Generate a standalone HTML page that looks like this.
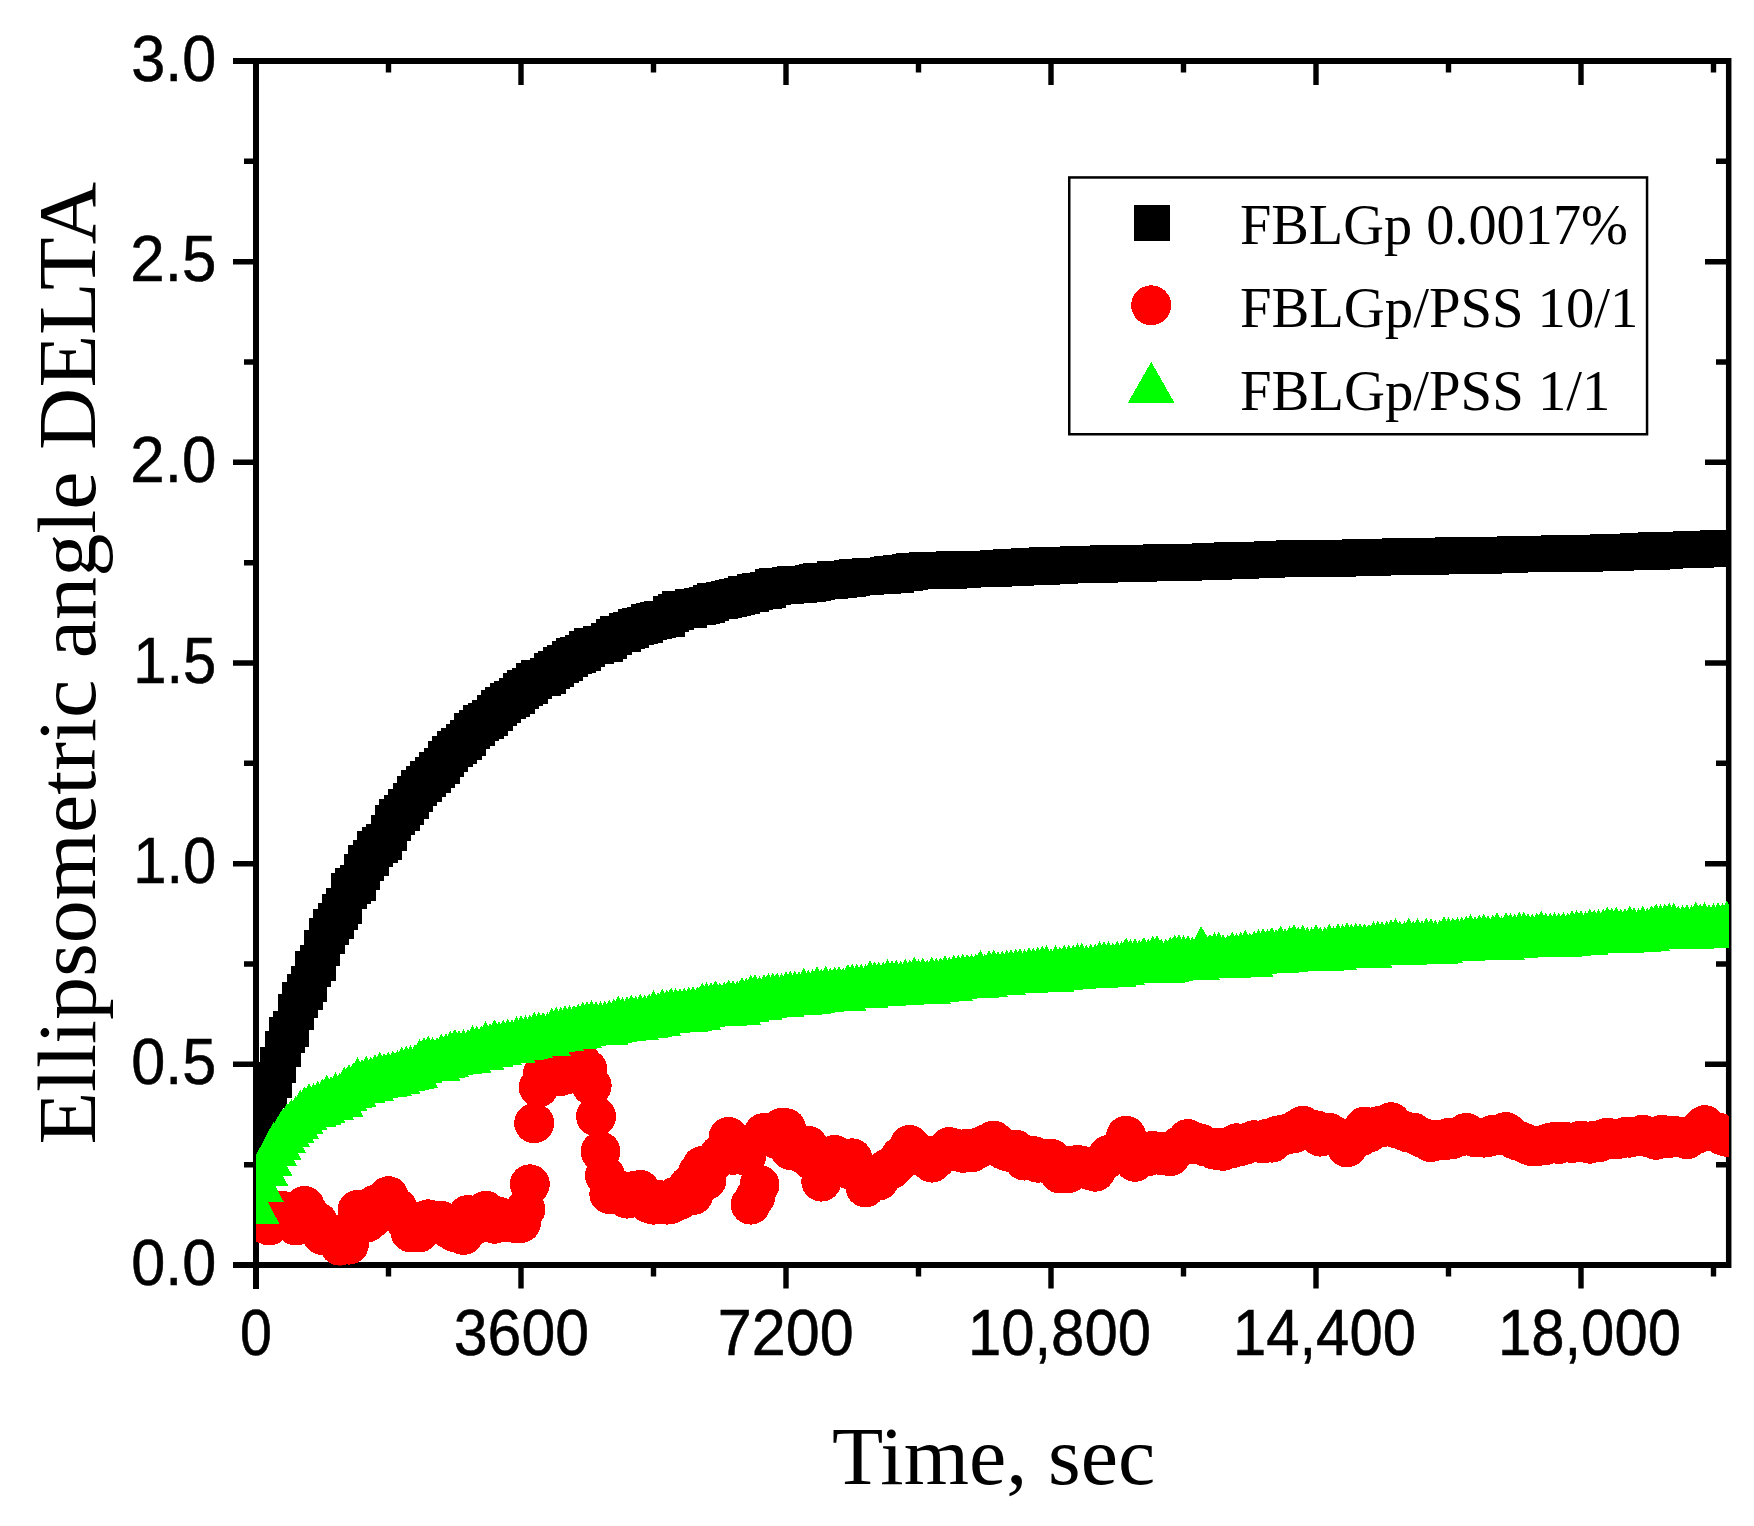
<!DOCTYPE html>
<html><head><meta charset="utf-8"><title>Ellipsometric angle DELTA vs time</title>
<style>
html,body{margin:0;padding:0;background:#fff}
body{width:1754px;height:1526px;overflow:hidden}
svg{display:block}
.tk{font-family:"Liberation Sans",Arial,sans-serif;font-size:64.7px;fill:#000;stroke:#000;stroke-width:0.55px}
.ti{font-family:"Liberation Serif","DejaVu Serif",serif;font-size:82px;fill:#000}
.lg{font-family:"Liberation Serif","DejaVu Serif",serif;font-size:57.5px;fill:#000}
</style></head><body>
<svg width="1754" height="1526" viewBox="0 0 1754 1526">
<defs><clipPath id="plot"><rect x="256" y="61" width="1473" height="1204.5"/></clipPath></defs>
<rect width="1754" height="1526" fill="#fff"/>
<g fill="none" stroke="#000">
<path d="M233 61H1731.4M256 58V1288.6M233 1265H1731.4" stroke-width="6" shape-rendering="crispEdges"/>
<path d="M1728.7 58V1268" stroke-width="5.5"/>
<path d="M233 1265h20M1705 1265h21M244 1164.7h9M1716 1164.7h10M233 1064.3h20M1705 1064.3h21M244 964h9M1716 964h10M233 863.7h20M1705 863.7h21M244 763.3h9M1716 763.3h10M233 663h20M1705 663h21M244 562.7h9M1716 562.7h10M233 462.3h20M1705 462.3h21M244 362h9M1716 362h10M233 261.7h20M1705 261.7h21M244 161.3h9M1716 161.3h10M233 61h20M1705 61h21M256 1268v20.5M256 64v21M388.5 1268v8.6M388.5 64v8.5M521 1268v20.5M521 64v21M653.5 1268v8.6M653.5 64v8.5M786 1268v20.5M786 64v21M918.5 1268v8.6M918.5 64v8.5M1051 1268v20.5M1051 64v21M1183.5 1268v8.6M1183.5 64v8.5M1316 1268v20.5M1316 64v21M1448.5 1268v8.6M1448.5 64v8.5M1581 1268v20.5M1581 64v21M1713.5 1268v8.6M1713.5 64v8.5" stroke-width="5.4"/>
</g>
<g clip-path="url(#plot)" shape-rendering="crispEdges">
<path fill="#000" d="M238 1122h36v36h-36zM242.4 1100h36v36h-36zM246.8 1084h36v36h-36zM251.2 1072h36v36h-36zM255.7 1062h36v36h-36zM260.1 1047h36v36h-36zM264.5 1031h36v36h-36zM268.9 1017h36v36h-36zM273.3 1011h36v36h-36zM277.8 994h36v36h-36zM282.2 982h36v36h-36zM286.6 974h36v36h-36zM291 966h36v36h-36zM295.4 951h36v36h-36zM299.8 945h36v36h-36zM304.2 930h36v36h-36zM308.7 918h36v36h-36zM313.1 909h36v36h-36zM317.5 903h36v36h-36zM321.9 894h36v36h-36zM326.3 888h36v36h-36zM330.8 873h36v36h-36zM335.2 868h36v36h-36zM339.6 865h36v36h-36zM344 854h36v36h-36zM348.4 845h36v36h-36zM352.8 840h36v36h-36zM357.2 831h36v36h-36zM361.7 827h36v36h-36zM366.1 824h36v36h-36zM370.5 815h36v36h-36zM374.9 805h36v36h-36zM379.3 799h36v36h-36zM383.8 795h36v36h-36zM388.2 789h36v36h-36zM392.6 783h36v36h-36zM397 776h36v36h-36zM401.4 770h36v36h-36zM405.8 766h36v36h-36zM410.2 761h36v36h-36zM414.7 757h36v36h-36zM419.1 752h36v36h-36zM423.5 748h36v36h-36zM427.9 741h36v36h-36zM432.3 736h36v36h-36zM436.8 731h36v36h-36zM441.2 728h36v36h-36zM445.6 724h36v36h-36zM450 720h36v36h-36zM454.4 713h36v36h-36zM458.8 710h36v36h-36zM463.2 705h36v36h-36zM467.7 703h36v36h-36zM472.1 700h36v36h-36zM476.5 695h36v36h-36zM480.9 690h36v36h-36zM485.3 687h36v36h-36zM489.8 683h36v36h-36zM494.2 681h36v36h-36zM498.6 678h36v36h-36zM503 673h36v36h-36zM507.4 670h36v36h-36zM511.8 668h36v36h-36zM516.2 663h36v36h-36zM520.7 660h36v36h-36zM525.1 660h36v36h-36zM529.5 658h36v36h-36zM533.9 653h36v36h-36zM538.3 651h36v36h-36zM542.8 647h36v36h-36zM547.2 645h36v36h-36zM551.6 641h36v36h-36zM556 638h36v36h-36zM560.4 637h36v36h-36zM564.8 635h36v36h-36zM569.2 631h36v36h-36zM573.7 628h36v36h-36zM578.1 628h36v36h-36zM582.5 626h36v36h-36zM586.9 626h36v36h-36zM591.3 623h36v36h-36zM595.8 619h36v36h-36zM600.2 616h36v36h-36zM604.6 616h36v36h-36zM609 613h36v36h-36zM613.4 612h36v36h-36zM617.8 609h36v36h-36zM622.2 608h36v36h-36zM626.7 607h36v36h-36zM631.1 604h36v36h-36zM635.5 603h36v36h-36zM639.9 602h36v36h-36zM644.3 601h36v36h-36zM648.8 601h36v36h-36zM653.2 596h36v36h-36zM657.6 594h36v36h-36zM662 591h36v36h-36zM666.4 592h36v36h-36zM670.8 592h36v36h-36zM675.2 589h36v36h-36zM679.7 589h36v36h-36zM684.1 588h36v36h-36zM688.5 587h36v36h-36zM692.9 585h36v36h-36zM697.3 583h36v36h-36zM701.8 583h36v36h-36zM706.2 582h36v36h-36zM710.6 581h36v36h-36zM715 580h36v36h-36zM719.4 579h36v36h-36zM723.8 578h36v36h-36zM728.2 576h36v36h-36zM732.7 576h36v36h-36zM737.1 574h36v36h-36zM741.5 573h36v36h-36zM745.9 573h36v36h-36zM750.3 572h36v36h-36zM754.8 569h36v36h-36zM759.2 568h36v36h-36zM763.6 568h36v36h-36zM768 568h36v36h-36zM772.4 567h36v36h-36zM776.8 566h36v36h-36zM781.2 567h36v36h-36zM785.7 566h36v36h-36zM790.1 566h36v36h-36zM794.5 565h36v36h-36zM798.9 564h36v36h-36zM803.3 563h36v36h-36zM807.8 563h36v36h-36zM812.2 563h36v36h-36zM816.6 561h36v36h-36zM821 562h36v36h-36zM825.4 561h36v36h-36zM829.8 561h36v36h-36zM834.2 560h36v36h-36zM838.7 559h36v36h-36zM843.1 559h36v36h-36zM847.5 559h36v36h-36zM851.9 558h36v36h-36zM856.3 558h36v36h-36zM860.8 558h36v36h-36zM865.2 558h36v36h-36zM869.6 557h36v36h-36zM874 556h36v36h-36zM878.4 557h36v36h-36zM882.8 555h36v36h-36zM887.2 555h36v36h-36zM891.7 554h36v36h-36zM896.1 553h36v36h-36zM900.5 553h36v36h-36zM904.9 553h36v36h-36zM909.3 552h36v36h-36zM913.8 552h36v36h-36zM918.2 552h36v36h-36zM922.6 553h36v36h-36zM927 553h36v36h-36zM931.4 553h36v36h-36zM935.8 551h36v36h-36zM940.2 552h36v36h-36zM944.7 552h36v36h-36zM949.1 551h36v36h-36zM953.5 551h36v36h-36zM957.9 551h36v36h-36zM962.3 551h36v36h-36zM966.8 551h36v36h-36zM971.2 551h36v36h-36zM975.6 551h36v36h-36zM980 550h36v36h-36zM984.4 550h36v36h-36zM988.8 550h36v36h-36zM993.2 549h36v36h-36zM997.7 550h36v36h-36zM1002.1 549h36v36h-36zM1006.5 549h36v36h-36zM1010.9 548h36v36h-36zM1015.3 549h36v36h-36zM1019.8 549h36v36h-36zM1024.2 549h36v36h-36zM1028.6 547h36v36h-36zM1033 547h36v36h-36zM1037.4 547h36v36h-36zM1041.8 548h36v36h-36zM1046.2 547h36v36h-36zM1050.7 547h36v36h-36zM1055.1 547h36v36h-36zM1059.5 546h36v36h-36zM1063.9 547h36v36h-36zM1068.3 546h36v36h-36zM1072.8 546h36v36h-36zM1077.2 547h36v36h-36zM1081.6 547h36v36h-36zM1086 546h36v36h-36zM1090.4 545h36v36h-36zM1094.8 546h36v36h-36zM1099.2 545h36v36h-36zM1103.7 545h36v36h-36zM1108.1 545h36v36h-36zM1112.5 545h36v36h-36zM1116.9 545h36v36h-36zM1121.3 546h36v36h-36zM1125.8 545h36v36h-36zM1130.2 545h36v36h-36zM1134.6 545h36v36h-36zM1139 545h36v36h-36zM1143.4 544h36v36h-36zM1147.8 545h36v36h-36zM1152.2 544h36v36h-36zM1156.7 545h36v36h-36zM1161.1 544h36v36h-36zM1165.5 545h36v36h-36zM1169.9 544h36v36h-36zM1174.3 544h36v36h-36zM1178.8 544h36v36h-36zM1183.2 544h36v36h-36zM1187.6 544h36v36h-36zM1192 543h36v36h-36zM1196.4 544h36v36h-36zM1200.8 543h36v36h-36zM1205.2 543h36v36h-36zM1209.7 543h36v36h-36zM1214.1 542h36v36h-36zM1218.5 542h36v36h-36zM1222.9 543h36v36h-36zM1227.3 542h36v36h-36zM1231.8 542h36v36h-36zM1236.2 542h36v36h-36zM1240.6 542h36v36h-36zM1245 542h36v36h-36zM1249.4 542h36v36h-36zM1253.8 541h36v36h-36zM1258.2 541h36v36h-36zM1262.7 541h36v36h-36zM1267.1 541h36v36h-36zM1271.5 541h36v36h-36zM1275.9 540h36v36h-36zM1280.3 541h36v36h-36zM1284.8 541h36v36h-36zM1289.2 541h36v36h-36zM1293.6 541h36v36h-36zM1298 541h36v36h-36zM1302.4 541h36v36h-36zM1306.8 540h36v36h-36zM1311.2 540h36v36h-36zM1315.7 540h36v36h-36zM1320.1 541h36v36h-36zM1324.5 540h36v36h-36zM1328.9 540h36v36h-36zM1333.3 540h36v36h-36zM1337.8 540h36v36h-36zM1342.2 539h36v36h-36zM1346.6 540h36v36h-36zM1351 540h36v36h-36zM1355.4 540h36v36h-36zM1359.8 539h36v36h-36zM1364.2 539h36v36h-36zM1368.7 539h36v36h-36zM1373.1 539h36v36h-36zM1377.5 539h36v36h-36zM1381.9 538h36v36h-36zM1386.3 539h36v36h-36zM1390.8 539h36v36h-36zM1395.2 539h36v36h-36zM1399.6 538h36v36h-36zM1404 539h36v36h-36zM1408.4 538h36v36h-36zM1412.8 539h36v36h-36zM1417.2 538h36v36h-36zM1421.7 538h36v36h-36zM1426.1 538h36v36h-36zM1430.5 538h36v36h-36zM1434.9 537h36v36h-36zM1439.3 537h36v36h-36zM1443.8 538h36v36h-36zM1448.2 537h36v36h-36zM1452.6 537h36v36h-36zM1457 538h36v36h-36zM1461.4 538h36v36h-36zM1465.8 538h36v36h-36zM1470.2 537h36v36h-36zM1474.7 537h36v36h-36zM1479.1 537h36v36h-36zM1483.5 537h36v36h-36zM1487.9 537h36v36h-36zM1492.3 537h36v36h-36zM1496.8 536h36v36h-36zM1501.2 536h36v36h-36zM1505.6 536h36v36h-36zM1510 536h36v36h-36zM1514.4 536h36v36h-36zM1518.8 536h36v36h-36zM1523.2 536h36v36h-36zM1527.7 536h36v36h-36zM1532.1 536h36v36h-36zM1536.5 536h36v36h-36zM1540.9 535h36v36h-36zM1545.3 536h36v36h-36zM1549.8 536h36v36h-36zM1554.2 535h36v36h-36zM1558.6 535h36v36h-36zM1563 535h36v36h-36zM1567.4 536h36v36h-36zM1571.8 535h36v36h-36zM1576.2 535h36v36h-36zM1580.7 535h36v36h-36zM1585.1 535h36v36h-36zM1589.5 534h36v36h-36zM1593.9 535h36v36h-36zM1598.3 535h36v36h-36zM1602.8 534h36v36h-36zM1607.2 534h36v36h-36zM1611.6 534h36v36h-36zM1616 534h36v36h-36zM1620.4 533h36v36h-36zM1624.8 533h36v36h-36zM1629.2 533h36v36h-36zM1633.7 534h36v36h-36zM1638.1 532h36v36h-36zM1642.5 532h36v36h-36zM1646.9 533h36v36h-36zM1651.3 532h36v36h-36zM1655.8 532h36v36h-36zM1660.2 532h36v36h-36zM1664.6 532h36v36h-36zM1669 532h36v36h-36zM1673.4 531h36v36h-36zM1677.8 532h36v36h-36zM1682.2 531h36v36h-36zM1686.7 531h36v36h-36zM1691.1 531h36v36h-36zM1695.5 531h36v36h-36zM1699.9 530h36v36h-36zM1704.3 531h36v36h-36zM1708.8 530h36v36h-36z"/>
<path fill="#f00" d="M236 1221.6a20 20 0 1 0 40 0a20 20 0 1 0-40 0zM240.4 1222.5a20 20 0 1 0 40 0a20 20 0 1 0-40 0zM244.8 1223.8a20 20 0 1 0 40 0a20 20 0 1 0-40 0zM249.2 1225.5a20 20 0 1 0 40 0a20 20 0 1 0-40 0zM253.7 1221.9a20 20 0 1 0 40 0a20 20 0 1 0-40 0zM258.1 1216.2a20 20 0 1 0 40 0a20 20 0 1 0-40 0zM262.5 1210.8a20 20 0 1 0 40 0a20 20 0 1 0-40 0zM266.9 1219a20 20 0 1 0 40 0a20 20 0 1 0-40 0zM271.3 1219a20 20 0 1 0 40 0a20 20 0 1 0-40 0zM275.8 1225.5a20 20 0 1 0 40 0a20 20 0 1 0-40 0zM280.2 1217.1a20 20 0 1 0 40 0a20 20 0 1 0-40 0zM284.6 1206a20 20 0 1 0 40 0a20 20 0 1 0-40 0zM289 1213.8a20 20 0 1 0 40 0a20 20 0 1 0-40 0zM293.4 1222.5a20 20 0 1 0 40 0a20 20 0 1 0-40 0zM297.8 1221.9a20 20 0 1 0 40 0a20 20 0 1 0-40 0zM302.2 1234.9a20 20 0 1 0 40 0a20 20 0 1 0-40 0zM306.7 1232.1a20 20 0 1 0 40 0a20 20 0 1 0-40 0zM311.1 1235.8a20 20 0 1 0 40 0a20 20 0 1 0-40 0zM315.5 1240.3a20 20 0 1 0 40 0a20 20 0 1 0-40 0zM319.9 1245.7a20 20 0 1 0 40 0a20 20 0 1 0-40 0zM324.3 1241.9a20 20 0 1 0 40 0a20 20 0 1 0-40 0zM328.8 1244.6a20 20 0 1 0 40 0a20 20 0 1 0-40 0zM333.2 1229.7a20 20 0 1 0 40 0a20 20 0 1 0-40 0zM337.6 1209.9a20 20 0 1 0 40 0a20 20 0 1 0-40 0zM342 1221a20 20 0 1 0 40 0a20 20 0 1 0-40 0zM346.4 1222.8a20 20 0 1 0 40 0a20 20 0 1 0-40 0zM350.8 1219.3a20 20 0 1 0 40 0a20 20 0 1 0-40 0zM355.2 1204.8a20 20 0 1 0 40 0a20 20 0 1 0-40 0zM359.7 1212.7a20 20 0 1 0 40 0a20 20 0 1 0-40 0zM364.1 1204.8a20 20 0 1 0 40 0a20 20 0 1 0-40 0zM368.5 1196.2a20 20 0 1 0 40 0a20 20 0 1 0-40 0zM372.9 1204.8a20 20 0 1 0 40 0a20 20 0 1 0-40 0zM377.3 1208.1a20 20 0 1 0 40 0a20 20 0 1 0-40 0zM381.8 1215.8a20 20 0 1 0 40 0a20 20 0 1 0-40 0zM386.2 1222.2a20 20 0 1 0 40 0a20 20 0 1 0-40 0zM390.6 1232.3a20 20 0 1 0 40 0a20 20 0 1 0-40 0zM395 1224.2a20 20 0 1 0 40 0a20 20 0 1 0-40 0zM399.4 1232.3a20 20 0 1 0 40 0a20 20 0 1 0-40 0zM403.8 1228.2a20 20 0 1 0 40 0a20 20 0 1 0-40 0zM408.2 1219.3a20 20 0 1 0 40 0a20 20 0 1 0-40 0zM412.7 1223.1a20 20 0 1 0 40 0a20 20 0 1 0-40 0zM417.1 1220.6a20 20 0 1 0 40 0a20 20 0 1 0-40 0zM421.5 1220.9a20 20 0 1 0 40 0a20 20 0 1 0-40 0zM425.9 1226.2a20 20 0 1 0 40 0a20 20 0 1 0-40 0zM430.3 1229.6a20 20 0 1 0 40 0a20 20 0 1 0-40 0zM434.8 1232.3a20 20 0 1 0 40 0a20 20 0 1 0-40 0zM439.2 1229.1a20 20 0 1 0 40 0a20 20 0 1 0-40 0zM443.6 1234.9a20 20 0 1 0 40 0a20 20 0 1 0-40 0zM448 1215a20 20 0 1 0 40 0a20 20 0 1 0-40 0zM452.4 1223a20 20 0 1 0 40 0a20 20 0 1 0-40 0zM456.8 1224a20 20 0 1 0 40 0a20 20 0 1 0-40 0zM461.2 1220.3a20 20 0 1 0 40 0a20 20 0 1 0-40 0zM465.7 1210.8a20 20 0 1 0 40 0a20 20 0 1 0-40 0zM470.1 1216.7a20 20 0 1 0 40 0a20 20 0 1 0-40 0zM474.5 1223.8a20 20 0 1 0 40 0a20 20 0 1 0-40 0zM478.9 1216.8a20 20 0 1 0 40 0a20 20 0 1 0-40 0zM483.3 1222.3a20 20 0 1 0 40 0a20 20 0 1 0-40 0zM487.8 1219.7a20 20 0 1 0 40 0a20 20 0 1 0-40 0zM492.2 1222.3a20 20 0 1 0 40 0a20 20 0 1 0-40 0zM496.6 1223.5a20 20 0 1 0 40 0a20 20 0 1 0-40 0zM501 1222.9a20 20 0 1 0 40 0a20 20 0 1 0-40 0zM505.4 1209.2a20 20 0 1 0 40 0a20 20 0 1 0-40 0zM509.8 1184.3a20 20 0 1 0 40 0a20 20 0 1 0-40 0zM514.2 1123.2a20 20 0 1 0 40 0a20 20 0 1 0-40 0zM518.7 1087.3a20 20 0 1 0 40 0a20 20 0 1 0-40 0zM523.1 1073.4a20 20 0 1 0 40 0a20 20 0 1 0-40 0zM527.5 1069.7a20 20 0 1 0 40 0a20 20 0 1 0-40 0zM531.9 1071.3a20 20 0 1 0 40 0a20 20 0 1 0-40 0zM536.3 1073.6a20 20 0 1 0 40 0a20 20 0 1 0-40 0zM540.8 1075.9a20 20 0 1 0 40 0a20 20 0 1 0-40 0zM545.2 1074.7a20 20 0 1 0 40 0a20 20 0 1 0-40 0zM549.6 1072.4a20 20 0 1 0 40 0a20 20 0 1 0-40 0zM554 1070.1a20 20 0 1 0 40 0a20 20 0 1 0-40 0zM558.4 1067.5a20 20 0 1 0 40 0a20 20 0 1 0-40 0zM562.8 1064.8a20 20 0 1 0 40 0a20 20 0 1 0-40 0zM567.2 1069.2a20 20 0 1 0 40 0a20 20 0 1 0-40 0zM571.7 1085.7a20 20 0 1 0 40 0a20 20 0 1 0-40 0zM576.1 1116.5a20 20 0 1 0 40 0a20 20 0 1 0-40 0zM580.5 1151.5a20 20 0 1 0 40 0a20 20 0 1 0-40 0zM584.9 1175.6a20 20 0 1 0 40 0a20 20 0 1 0-40 0zM589.3 1194a20 20 0 1 0 40 0a20 20 0 1 0-40 0zM593.8 1189.5a20 20 0 1 0 40 0a20 20 0 1 0-40 0zM598.2 1189.9a20 20 0 1 0 40 0a20 20 0 1 0-40 0zM602.6 1191.3a20 20 0 1 0 40 0a20 20 0 1 0-40 0zM607 1198.6a20 20 0 1 0 40 0a20 20 0 1 0-40 0zM611.4 1197.8a20 20 0 1 0 40 0a20 20 0 1 0-40 0zM615.8 1190.5a20 20 0 1 0 40 0a20 20 0 1 0-40 0zM620.2 1190a20 20 0 1 0 40 0a20 20 0 1 0-40 0zM624.7 1197.3a20 20 0 1 0 40 0a20 20 0 1 0-40 0zM629.1 1203.3a20 20 0 1 0 40 0a20 20 0 1 0-40 0zM633.5 1204.6a20 20 0 1 0 40 0a20 20 0 1 0-40 0zM637.9 1199.8a20 20 0 1 0 40 0a20 20 0 1 0-40 0zM642.3 1204.3a20 20 0 1 0 40 0a20 20 0 1 0-40 0zM646.8 1204.6a20 20 0 1 0 40 0a20 20 0 1 0-40 0zM651.2 1203.9a20 20 0 1 0 40 0a20 20 0 1 0-40 0zM655.6 1196.7a20 20 0 1 0 40 0a20 20 0 1 0-40 0zM660 1199.7a20 20 0 1 0 40 0a20 20 0 1 0-40 0zM664.4 1190.9a20 20 0 1 0 40 0a20 20 0 1 0-40 0zM668.8 1185.4a20 20 0 1 0 40 0a20 20 0 1 0-40 0zM673.2 1195a20 20 0 1 0 40 0a20 20 0 1 0-40 0zM677.7 1173a20 20 0 1 0 40 0a20 20 0 1 0-40 0zM682.1 1166.1a20 20 0 1 0 40 0a20 20 0 1 0-40 0zM686.5 1180a20 20 0 1 0 40 0a20 20 0 1 0-40 0zM690.9 1165.1a20 20 0 1 0 40 0a20 20 0 1 0-40 0zM695.3 1160a20 20 0 1 0 40 0a20 20 0 1 0-40 0zM699.8 1154.4a20 20 0 1 0 40 0a20 20 0 1 0-40 0zM704.2 1152.1a20 20 0 1 0 40 0a20 20 0 1 0-40 0zM708.6 1137a20 20 0 1 0 40 0a20 20 0 1 0-40 0zM713 1154.8a20 20 0 1 0 40 0a20 20 0 1 0-40 0zM717.4 1152.6a20 20 0 1 0 40 0a20 20 0 1 0-40 0zM721.8 1149a20 20 0 1 0 40 0a20 20 0 1 0-40 0zM726.2 1155.9a20 20 0 1 0 40 0a20 20 0 1 0-40 0zM730.7 1204.6a20 20 0 1 0 40 0a20 20 0 1 0-40 0zM735.1 1197.1a20 20 0 1 0 40 0a20 20 0 1 0-40 0zM739.5 1184.9a20 20 0 1 0 40 0a20 20 0 1 0-40 0zM743.9 1133a20 20 0 1 0 40 0a20 20 0 1 0-40 0zM748.3 1136.2a20 20 0 1 0 40 0a20 20 0 1 0-40 0zM752.8 1136.1a20 20 0 1 0 40 0a20 20 0 1 0-40 0zM757.2 1139.4a20 20 0 1 0 40 0a20 20 0 1 0-40 0zM761.6 1127.9a20 20 0 1 0 40 0a20 20 0 1 0-40 0zM766 1128.2a20 20 0 1 0 40 0a20 20 0 1 0-40 0zM770.4 1150a20 20 0 1 0 40 0a20 20 0 1 0-40 0zM774.8 1146.5a20 20 0 1 0 40 0a20 20 0 1 0-40 0zM779.2 1151.5a20 20 0 1 0 40 0a20 20 0 1 0-40 0zM783.7 1154.3a20 20 0 1 0 40 0a20 20 0 1 0-40 0zM788.1 1145.9a20 20 0 1 0 40 0a20 20 0 1 0-40 0zM792.5 1160.6a20 20 0 1 0 40 0a20 20 0 1 0-40 0zM796.9 1164.6a20 20 0 1 0 40 0a20 20 0 1 0-40 0zM801.3 1181.6a20 20 0 1 0 40 0a20 20 0 1 0-40 0zM805.8 1164.9a20 20 0 1 0 40 0a20 20 0 1 0-40 0zM810.2 1166.6a20 20 0 1 0 40 0a20 20 0 1 0-40 0zM814.6 1154.9a20 20 0 1 0 40 0a20 20 0 1 0-40 0zM819 1163.7a20 20 0 1 0 40 0a20 20 0 1 0-40 0zM823.4 1165.4a20 20 0 1 0 40 0a20 20 0 1 0-40 0zM827.8 1168.9a20 20 0 1 0 40 0a20 20 0 1 0-40 0zM832.2 1158.3a20 20 0 1 0 40 0a20 20 0 1 0-40 0zM836.7 1169.6a20 20 0 1 0 40 0a20 20 0 1 0-40 0zM841.1 1175a20 20 0 1 0 40 0a20 20 0 1 0-40 0zM845.5 1187.4a20 20 0 1 0 40 0a20 20 0 1 0-40 0zM849.9 1179.4a20 20 0 1 0 40 0a20 20 0 1 0-40 0zM854.3 1180.8a20 20 0 1 0 40 0a20 20 0 1 0-40 0zM858.8 1180.5a20 20 0 1 0 40 0a20 20 0 1 0-40 0zM863.2 1172.7a20 20 0 1 0 40 0a20 20 0 1 0-40 0zM867.6 1168.4a20 20 0 1 0 40 0a20 20 0 1 0-40 0zM872 1168.7a20 20 0 1 0 40 0a20 20 0 1 0-40 0zM876.4 1164.3a20 20 0 1 0 40 0a20 20 0 1 0-40 0zM880.8 1156.2a20 20 0 1 0 40 0a20 20 0 1 0-40 0zM885.2 1156.2a20 20 0 1 0 40 0a20 20 0 1 0-40 0zM889.7 1145a20 20 0 1 0 40 0a20 20 0 1 0-40 0zM894.1 1152.1a20 20 0 1 0 40 0a20 20 0 1 0-40 0zM898.5 1154.6a20 20 0 1 0 40 0a20 20 0 1 0-40 0zM902.9 1156.9a20 20 0 1 0 40 0a20 20 0 1 0-40 0zM907.3 1155.4a20 20 0 1 0 40 0a20 20 0 1 0-40 0zM911.8 1162.6a20 20 0 1 0 40 0a20 20 0 1 0-40 0zM916.2 1158.7a20 20 0 1 0 40 0a20 20 0 1 0-40 0zM920.6 1154.1a20 20 0 1 0 40 0a20 20 0 1 0-40 0zM925 1152a20 20 0 1 0 40 0a20 20 0 1 0-40 0zM929.4 1147.1a20 20 0 1 0 40 0a20 20 0 1 0-40 0zM933.8 1150.6a20 20 0 1 0 40 0a20 20 0 1 0-40 0zM938.2 1149.2a20 20 0 1 0 40 0a20 20 0 1 0-40 0zM942.7 1152.8a20 20 0 1 0 40 0a20 20 0 1 0-40 0zM947.1 1148.9a20 20 0 1 0 40 0a20 20 0 1 0-40 0zM951.5 1152.5a20 20 0 1 0 40 0a20 20 0 1 0-40 0zM955.9 1148a20 20 0 1 0 40 0a20 20 0 1 0-40 0zM960.3 1147.8a20 20 0 1 0 40 0a20 20 0 1 0-40 0zM964.8 1144.7a20 20 0 1 0 40 0a20 20 0 1 0-40 0zM969.2 1145a20 20 0 1 0 40 0a20 20 0 1 0-40 0zM973.6 1140.7a20 20 0 1 0 40 0a20 20 0 1 0-40 0zM978 1144.6a20 20 0 1 0 40 0a20 20 0 1 0-40 0zM982.4 1149.2a20 20 0 1 0 40 0a20 20 0 1 0-40 0zM986.8 1151.2a20 20 0 1 0 40 0a20 20 0 1 0-40 0zM991.2 1152.2a20 20 0 1 0 40 0a20 20 0 1 0-40 0zM995.7 1149.8a20 20 0 1 0 40 0a20 20 0 1 0-40 0zM1000.1 1154.5a20 20 0 1 0 40 0a20 20 0 1 0-40 0zM1004.5 1160.6a20 20 0 1 0 40 0a20 20 0 1 0-40 0zM1008.9 1160a20 20 0 1 0 40 0a20 20 0 1 0-40 0zM1013.3 1156.1a20 20 0 1 0 40 0a20 20 0 1 0-40 0zM1017.8 1162.7a20 20 0 1 0 40 0a20 20 0 1 0-40 0zM1022.2 1159.1a20 20 0 1 0 40 0a20 20 0 1 0-40 0zM1026.6 1163.3a20 20 0 1 0 40 0a20 20 0 1 0-40 0zM1031 1158.7a20 20 0 1 0 40 0a20 20 0 1 0-40 0zM1035.4 1163a20 20 0 1 0 40 0a20 20 0 1 0-40 0zM1039.8 1173.4a20 20 0 1 0 40 0a20 20 0 1 0-40 0zM1044.2 1165.7a20 20 0 1 0 40 0a20 20 0 1 0-40 0zM1048.7 1172.9a20 20 0 1 0 40 0a20 20 0 1 0-40 0zM1053.1 1166.5a20 20 0 1 0 40 0a20 20 0 1 0-40 0zM1057.5 1165a20 20 0 1 0 40 0a20 20 0 1 0-40 0zM1061.9 1165.9a20 20 0 1 0 40 0a20 20 0 1 0-40 0zM1066.3 1167.7a20 20 0 1 0 40 0a20 20 0 1 0-40 0zM1070.8 1170.5a20 20 0 1 0 40 0a20 20 0 1 0-40 0zM1075.2 1171.7a20 20 0 1 0 40 0a20 20 0 1 0-40 0zM1079.6 1164.9a20 20 0 1 0 40 0a20 20 0 1 0-40 0zM1084 1160.9a20 20 0 1 0 40 0a20 20 0 1 0-40 0zM1088.4 1154.9a20 20 0 1 0 40 0a20 20 0 1 0-40 0zM1092.8 1155.1a20 20 0 1 0 40 0a20 20 0 1 0-40 0zM1097.2 1153.2a20 20 0 1 0 40 0a20 20 0 1 0-40 0zM1101.7 1151a20 20 0 1 0 40 0a20 20 0 1 0-40 0zM1106.1 1135.9a20 20 0 1 0 40 0a20 20 0 1 0-40 0zM1110.5 1150a20 20 0 1 0 40 0a20 20 0 1 0-40 0zM1114.9 1161.8a20 20 0 1 0 40 0a20 20 0 1 0-40 0zM1119.3 1153.4a20 20 0 1 0 40 0a20 20 0 1 0-40 0zM1123.8 1155.4a20 20 0 1 0 40 0a20 20 0 1 0-40 0zM1128.2 1156.2a20 20 0 1 0 40 0a20 20 0 1 0-40 0zM1132.6 1151a20 20 0 1 0 40 0a20 20 0 1 0-40 0zM1137 1152a20 20 0 1 0 40 0a20 20 0 1 0-40 0zM1141.4 1155a20 20 0 1 0 40 0a20 20 0 1 0-40 0zM1145.8 1151.9a20 20 0 1 0 40 0a20 20 0 1 0-40 0zM1150.2 1156.3a20 20 0 1 0 40 0a20 20 0 1 0-40 0zM1154.7 1150.3a20 20 0 1 0 40 0a20 20 0 1 0-40 0zM1159.1 1146.4a20 20 0 1 0 40 0a20 20 0 1 0-40 0zM1163.5 1145.5a20 20 0 1 0 40 0a20 20 0 1 0-40 0zM1167.9 1139a20 20 0 1 0 40 0a20 20 0 1 0-40 0zM1172.3 1144.2a20 20 0 1 0 40 0a20 20 0 1 0-40 0zM1176.8 1142.7a20 20 0 1 0 40 0a20 20 0 1 0-40 0zM1181.2 1144a20 20 0 1 0 40 0a20 20 0 1 0-40 0zM1185.6 1146.6a20 20 0 1 0 40 0a20 20 0 1 0-40 0zM1190 1147.5a20 20 0 1 0 40 0a20 20 0 1 0-40 0zM1194.4 1149.7a20 20 0 1 0 40 0a20 20 0 1 0-40 0zM1198.8 1147.6a20 20 0 1 0 40 0a20 20 0 1 0-40 0zM1203.2 1150.8a20 20 0 1 0 40 0a20 20 0 1 0-40 0zM1207.7 1147.2a20 20 0 1 0 40 0a20 20 0 1 0-40 0zM1212.1 1148.3a20 20 0 1 0 40 0a20 20 0 1 0-40 0zM1216.5 1143.3a20 20 0 1 0 40 0a20 20 0 1 0-40 0zM1220.9 1146a20 20 0 1 0 40 0a20 20 0 1 0-40 0zM1225.3 1144.7a20 20 0 1 0 40 0a20 20 0 1 0-40 0zM1229.8 1142.1a20 20 0 1 0 40 0a20 20 0 1 0-40 0zM1234.2 1140.2a20 20 0 1 0 40 0a20 20 0 1 0-40 0zM1238.6 1142.3a20 20 0 1 0 40 0a20 20 0 1 0-40 0zM1243 1143.4a20 20 0 1 0 40 0a20 20 0 1 0-40 0zM1247.4 1138.6a20 20 0 1 0 40 0a20 20 0 1 0-40 0zM1251.8 1142.6a20 20 0 1 0 40 0a20 20 0 1 0-40 0zM1256.2 1136a20 20 0 1 0 40 0a20 20 0 1 0-40 0zM1260.7 1135.1a20 20 0 1 0 40 0a20 20 0 1 0-40 0zM1265.1 1135a20 20 0 1 0 40 0a20 20 0 1 0-40 0zM1269.5 1133.1a20 20 0 1 0 40 0a20 20 0 1 0-40 0zM1273.9 1133.2a20 20 0 1 0 40 0a20 20 0 1 0-40 0zM1278.3 1128.5a20 20 0 1 0 40 0a20 20 0 1 0-40 0zM1282.8 1125.8a20 20 0 1 0 40 0a20 20 0 1 0-40 0zM1287.2 1128.3a20 20 0 1 0 40 0a20 20 0 1 0-40 0zM1291.6 1130.7a20 20 0 1 0 40 0a20 20 0 1 0-40 0zM1296 1130.3a20 20 0 1 0 40 0a20 20 0 1 0-40 0zM1300.4 1136.6a20 20 0 1 0 40 0a20 20 0 1 0-40 0zM1304.8 1135.3a20 20 0 1 0 40 0a20 20 0 1 0-40 0zM1309.2 1133a20 20 0 1 0 40 0a20 20 0 1 0-40 0zM1313.7 1135.7a20 20 0 1 0 40 0a20 20 0 1 0-40 0zM1318.1 1138a20 20 0 1 0 40 0a20 20 0 1 0-40 0zM1322.5 1138.4a20 20 0 1 0 40 0a20 20 0 1 0-40 0zM1326.9 1147.4a20 20 0 1 0 40 0a20 20 0 1 0-40 0zM1331.3 1140.1a20 20 0 1 0 40 0a20 20 0 1 0-40 0zM1335.8 1136.7a20 20 0 1 0 40 0a20 20 0 1 0-40 0zM1340.2 1136.5a20 20 0 1 0 40 0a20 20 0 1 0-40 0zM1344.6 1126.7a20 20 0 1 0 40 0a20 20 0 1 0-40 0zM1349 1132.5a20 20 0 1 0 40 0a20 20 0 1 0-40 0zM1353.4 1128.5a20 20 0 1 0 40 0a20 20 0 1 0-40 0zM1357.8 1126.2a20 20 0 1 0 40 0a20 20 0 1 0-40 0zM1362.2 1127.3a20 20 0 1 0 40 0a20 20 0 1 0-40 0zM1366.7 1125.5a20 20 0 1 0 40 0a20 20 0 1 0-40 0zM1371.1 1122.2a20 20 0 1 0 40 0a20 20 0 1 0-40 0zM1375.5 1128.1a20 20 0 1 0 40 0a20 20 0 1 0-40 0zM1379.9 1129.2a20 20 0 1 0 40 0a20 20 0 1 0-40 0zM1384.3 1131.1a20 20 0 1 0 40 0a20 20 0 1 0-40 0zM1388.8 1132.7a20 20 0 1 0 40 0a20 20 0 1 0-40 0zM1393.2 1132.6a20 20 0 1 0 40 0a20 20 0 1 0-40 0zM1397.6 1135.6a20 20 0 1 0 40 0a20 20 0 1 0-40 0zM1402 1137.7a20 20 0 1 0 40 0a20 20 0 1 0-40 0zM1406.4 1138.8a20 20 0 1 0 40 0a20 20 0 1 0-40 0zM1410.8 1142.1a20 20 0 1 0 40 0a20 20 0 1 0-40 0zM1415.2 1140.4a20 20 0 1 0 40 0a20 20 0 1 0-40 0zM1419.7 1140.2a20 20 0 1 0 40 0a20 20 0 1 0-40 0zM1424.1 1140.4a20 20 0 1 0 40 0a20 20 0 1 0-40 0zM1428.5 1138a20 20 0 1 0 40 0a20 20 0 1 0-40 0zM1432.9 1139a20 20 0 1 0 40 0a20 20 0 1 0-40 0zM1437.3 1137a20 20 0 1 0 40 0a20 20 0 1 0-40 0zM1441.8 1135.9a20 20 0 1 0 40 0a20 20 0 1 0-40 0zM1446.2 1132.9a20 20 0 1 0 40 0a20 20 0 1 0-40 0zM1450.6 1135.5a20 20 0 1 0 40 0a20 20 0 1 0-40 0zM1455 1137.1a20 20 0 1 0 40 0a20 20 0 1 0-40 0zM1459.4 1137.5a20 20 0 1 0 40 0a20 20 0 1 0-40 0zM1463.8 1137.6a20 20 0 1 0 40 0a20 20 0 1 0-40 0zM1468.2 1137a20 20 0 1 0 40 0a20 20 0 1 0-40 0zM1472.7 1134.8a20 20 0 1 0 40 0a20 20 0 1 0-40 0zM1477.1 1135.1a20 20 0 1 0 40 0a20 20 0 1 0-40 0zM1481.5 1134.1a20 20 0 1 0 40 0a20 20 0 1 0-40 0zM1485.9 1132a20 20 0 1 0 40 0a20 20 0 1 0-40 0zM1490.3 1136a20 20 0 1 0 40 0a20 20 0 1 0-40 0zM1494.8 1139.6a20 20 0 1 0 40 0a20 20 0 1 0-40 0zM1499.2 1141.1a20 20 0 1 0 40 0a20 20 0 1 0-40 0zM1503.6 1142.6a20 20 0 1 0 40 0a20 20 0 1 0-40 0zM1508 1144.9a20 20 0 1 0 40 0a20 20 0 1 0-40 0zM1512.4 1146.4a20 20 0 1 0 40 0a20 20 0 1 0-40 0zM1516.8 1146.2a20 20 0 1 0 40 0a20 20 0 1 0-40 0zM1521.2 1145.3a20 20 0 1 0 40 0a20 20 0 1 0-40 0zM1525.7 1145a20 20 0 1 0 40 0a20 20 0 1 0-40 0zM1530.1 1142.7a20 20 0 1 0 40 0a20 20 0 1 0-40 0zM1534.5 1141.9a20 20 0 1 0 40 0a20 20 0 1 0-40 0zM1538.9 1144a20 20 0 1 0 40 0a20 20 0 1 0-40 0zM1543.3 1142a20 20 0 1 0 40 0a20 20 0 1 0-40 0zM1547.8 1142.3a20 20 0 1 0 40 0a20 20 0 1 0-40 0zM1552.2 1142.9a20 20 0 1 0 40 0a20 20 0 1 0-40 0zM1556.6 1142.1a20 20 0 1 0 40 0a20 20 0 1 0-40 0zM1561 1140.5a20 20 0 1 0 40 0a20 20 0 1 0-40 0zM1565.4 1142.4a20 20 0 1 0 40 0a20 20 0 1 0-40 0zM1569.8 1143.7a20 20 0 1 0 40 0a20 20 0 1 0-40 0zM1574.2 1140.7a20 20 0 1 0 40 0a20 20 0 1 0-40 0zM1578.7 1142.2a20 20 0 1 0 40 0a20 20 0 1 0-40 0zM1583.1 1139.3a20 20 0 1 0 40 0a20 20 0 1 0-40 0zM1587.5 1137.6a20 20 0 1 0 40 0a20 20 0 1 0-40 0zM1591.9 1138.7a20 20 0 1 0 40 0a20 20 0 1 0-40 0zM1596.3 1139.4a20 20 0 1 0 40 0a20 20 0 1 0-40 0zM1600.8 1138.6a20 20 0 1 0 40 0a20 20 0 1 0-40 0zM1605.2 1137.1a20 20 0 1 0 40 0a20 20 0 1 0-40 0zM1609.6 1137.7a20 20 0 1 0 40 0a20 20 0 1 0-40 0zM1614 1136.6a20 20 0 1 0 40 0a20 20 0 1 0-40 0zM1618.4 1136.5a20 20 0 1 0 40 0a20 20 0 1 0-40 0zM1622.8 1134.7a20 20 0 1 0 40 0a20 20 0 1 0-40 0zM1627.2 1136.9a20 20 0 1 0 40 0a20 20 0 1 0-40 0zM1631.7 1137a20 20 0 1 0 40 0a20 20 0 1 0-40 0zM1636.1 1139.8a20 20 0 1 0 40 0a20 20 0 1 0-40 0zM1640.5 1135.2a20 20 0 1 0 40 0a20 20 0 1 0-40 0zM1644.9 1135.3a20 20 0 1 0 40 0a20 20 0 1 0-40 0zM1649.3 1137.9a20 20 0 1 0 40 0a20 20 0 1 0-40 0zM1653.8 1135.8a20 20 0 1 0 40 0a20 20 0 1 0-40 0zM1658.2 1137.1a20 20 0 1 0 40 0a20 20 0 1 0-40 0zM1662.6 1136.8a20 20 0 1 0 40 0a20 20 0 1 0-40 0zM1667 1139.1a20 20 0 1 0 40 0a20 20 0 1 0-40 0zM1671.4 1135.6a20 20 0 1 0 40 0a20 20 0 1 0-40 0zM1675.8 1134.3a20 20 0 1 0 40 0a20 20 0 1 0-40 0zM1680.2 1129.7a20 20 0 1 0 40 0a20 20 0 1 0-40 0zM1684.7 1125.2a20 20 0 1 0 40 0a20 20 0 1 0-40 0zM1689.1 1130.9a20 20 0 1 0 40 0a20 20 0 1 0-40 0zM1693.5 1131.3a20 20 0 1 0 40 0a20 20 0 1 0-40 0zM1697.9 1132.5a20 20 0 1 0 40 0a20 20 0 1 0-40 0zM1702.3 1135.4a20 20 0 1 0 40 0a20 20 0 1 0-40 0zM1706.8 1136.8a20 20 0 1 0 40 0a20 20 0 1 0-40 0z"/>
<path fill="#0f0" d="M256 1179.7l23.3 44h-46.6zM260.4 1157.8l23.3 44h-46.6zM264.8 1141.6l23.3 44h-46.6zM269.2 1132.2l23.3 44h-46.6zM273.7 1121.6l23.3 44h-46.6zM278.1 1115.9l23.3 44h-46.6zM282.5 1108.7l23.3 44h-46.6zM286.9 1103.1l23.3 44h-46.6zM291.3 1099.1l23.3 44h-46.6zM295.8 1095.3l23.3 44h-46.6zM300.2 1089.8l23.3 44h-46.6zM304.6 1086.4l23.3 44h-46.6zM309 1083.4l23.3 44h-46.6zM313.4 1083.2l23.3 44h-46.6zM317.8 1080.5l23.3 44h-46.6zM322.2 1078.7l23.3 44h-46.6zM326.7 1074.4l23.3 44h-46.6zM331.1 1076.3l23.3 44h-46.6zM335.5 1072.3l23.3 44h-46.6zM339.9 1072.5l23.3 44h-46.6zM344.3 1066.9l23.3 44h-46.6zM348.8 1064.1l23.3 44h-46.6zM353.2 1062.6l23.3 44h-46.6zM357.6 1057l23.3 44h-46.6zM362 1058.9l23.3 44h-46.6zM366.4 1055.5l23.3 44h-46.6zM370.8 1056.8l23.3 44h-46.6zM375.2 1054.2l23.3 44h-46.6zM379.7 1051.9l23.3 44h-46.6zM384.1 1052.8l23.3 44h-46.6zM388.5 1051.6l23.3 44h-46.6zM392.9 1050.4l23.3 44h-46.6zM397.3 1050l23.3 44h-46.6zM401.8 1046.7l23.3 44h-46.6zM406.2 1045.7l23.3 44h-46.6zM410.6 1045.2l23.3 44h-46.6zM415 1044.4l23.3 44h-46.6zM419.4 1039.1l23.3 44h-46.6zM423.8 1037.1l23.3 44h-46.6zM428.2 1035.9l23.3 44h-46.6zM432.7 1037l23.3 44h-46.6zM437.1 1036.8l23.3 44h-46.6zM441.5 1033.6l23.3 44h-46.6zM445.9 1032.9l23.3 44h-46.6zM450.3 1030.9l23.3 44h-46.6zM454.8 1029l23.3 44h-46.6zM459.2 1030l23.3 44h-46.6zM463.6 1029l23.3 44h-46.6zM468 1028.7l23.3 44h-46.6zM472.4 1025.2l23.3 44h-46.6zM476.8 1025.5l23.3 44h-46.6zM481.2 1025.6l23.3 44h-46.6zM485.7 1021.1l23.3 44h-46.6zM490.1 1022.8l23.3 44h-46.6zM494.5 1019.5l23.3 44h-46.6zM498.9 1021.3l23.3 44h-46.6zM503.3 1019.4l23.3 44h-46.6zM507.8 1018.6l23.3 44h-46.6zM512.2 1019.1l23.3 44h-46.6zM516.6 1016.2l23.3 44h-46.6zM521 1015.5l23.3 44h-46.6zM525.4 1015.2l23.3 44h-46.6zM529.8 1014.3l23.3 44h-46.6zM534.2 1011.5l23.3 44h-46.6zM538.7 1011.6l23.3 44h-46.6zM543.1 1011.8l23.3 44h-46.6zM547.5 1012l23.3 44h-46.6zM551.9 1007.6l23.3 44h-46.6zM556.3 1006.5l23.3 44h-46.6zM560.8 1006.9l23.3 44h-46.6zM565.2 1005.1l23.3 44h-46.6zM569.6 1005.3l23.3 44h-46.6zM574 1004.6l23.3 44h-46.6zM578.4 1003.5l23.3 44h-46.6zM582.8 1001.6l23.3 44h-46.6zM587.2 1001l23.3 44h-46.6zM591.7 1000.1l23.3 44h-46.6zM596.1 1001.1l23.3 44h-46.6zM600.5 1001.1l23.3 44h-46.6zM604.9 1000.6l23.3 44h-46.6zM609.3 999.4l23.3 44h-46.6zM613.8 998.2l23.3 44h-46.6zM618.2 995.7l23.3 44h-46.6zM622.6 997.1l23.3 44h-46.6zM627 996.3l23.3 44h-46.6zM631.4 994.4l23.3 44h-46.6zM635.8 995.6l23.3 44h-46.6zM640.2 993.6l23.3 44h-46.6zM644.7 994.4l23.3 44h-46.6zM649.1 993.4l23.3 44h-46.6zM653.5 990.4l23.3 44h-46.6zM657.9 992.1l23.3 44h-46.6zM662.3 988.7l23.3 44h-46.6zM666.8 989.3l23.3 44h-46.6zM671.2 987.3l23.3 44h-46.6zM675.6 987.8l23.3 44h-46.6zM680 988l23.3 44h-46.6zM684.4 987.8l23.3 44h-46.6zM688.8 986.6l23.3 44h-46.6zM693.2 986.2l23.3 44h-46.6zM697.7 986.2l23.3 44h-46.6zM702.1 982.6l23.3 44h-46.6zM706.5 982l23.3 44h-46.6zM710.9 982l23.3 44h-46.6zM715.3 980.2l23.3 44h-46.6zM719.8 982.2l23.3 44h-46.6zM724.2 981.8l23.3 44h-46.6zM728.6 979.5l23.3 44h-46.6zM733 979.9l23.3 44h-46.6zM737.4 980.5l23.3 44h-46.6zM741.8 977.1l23.3 44h-46.6zM746.2 977.9l23.3 44h-46.6zM750.7 974.6l23.3 44h-46.6zM755.1 974l23.3 44h-46.6zM759.5 976.2l23.3 44h-46.6zM763.9 974l23.3 44h-46.6zM768.3 973.1l23.3 44h-46.6zM772.8 972.3l23.3 44h-46.6zM777.2 972.3l23.3 44h-46.6zM781.6 973.3l23.3 44h-46.6zM786 971.4l23.3 44h-46.6zM790.4 970.8l23.3 44h-46.6zM794.8 970.9l23.3 44h-46.6zM799.2 971.1l23.3 44h-46.6zM803.7 967.9l23.3 44h-46.6zM808.1 969.7l23.3 44h-46.6zM812.5 969.2l23.3 44h-46.6zM816.9 966.3l23.3 44h-46.6zM821.3 968.3l23.3 44h-46.6zM825.8 965.7l23.3 44h-46.6zM830.2 967.4l23.3 44h-46.6zM834.6 966.5l23.3 44h-46.6zM839 965.7l23.3 44h-46.6zM843.4 967.4l23.3 44h-46.6zM847.8 964l23.3 44h-46.6zM852.2 963.5l23.3 44h-46.6zM856.7 963.7l23.3 44h-46.6zM861.1 963.6l23.3 44h-46.6zM865.5 964.3l23.3 44h-46.6zM869.9 960l23.3 44h-46.6zM874.3 961.2l23.3 44h-46.6zM878.8 961.5l23.3 44h-46.6zM883.2 961.7l23.3 44h-46.6zM887.6 959.1l23.3 44h-46.6zM892 960.1l23.3 44h-46.6zM896.4 959.7l23.3 44h-46.6zM900.8 960.9l23.3 44h-46.6zM905.2 958.5l23.3 44h-46.6zM909.7 959.4l23.3 44h-46.6zM914.1 956.7l23.3 44h-46.6zM918.5 959.3l23.3 44h-46.6zM922.9 957.5l23.3 44h-46.6zM927.3 959.6l23.3 44h-46.6zM931.8 956.8l23.3 44h-46.6zM936.2 957.5l23.3 44h-46.6zM940.6 957.4l23.3 44h-46.6zM945 955.3l23.3 44h-46.6zM949.4 956.7l23.3 44h-46.6zM953.8 954.5l23.3 44h-46.6zM958.2 954.4l23.3 44h-46.6zM962.7 953.4l23.3 44h-46.6zM967.1 953.8l23.3 44h-46.6zM971.5 953.7l23.3 44h-46.6zM975.9 953.6l23.3 44h-46.6zM980.3 950l23.3 44h-46.6zM984.8 953.2l23.3 44h-46.6zM989.2 950l23.3 44h-46.6zM993.6 949.7l23.3 44h-46.6zM998 950.8l23.3 44h-46.6zM1002.4 950.6l23.3 44h-46.6zM1006.8 949.3l23.3 44h-46.6zM1011.2 949l23.3 44h-46.6zM1015.7 948.6l23.3 44h-46.6zM1020.1 948l23.3 44h-46.6zM1024.5 948.9l23.3 44h-46.6zM1028.9 947l23.3 44h-46.6zM1033.3 947.3l23.3 44h-46.6zM1037.8 946.4l23.3 44h-46.6zM1042.2 945.5l23.3 44h-46.6zM1046.6 945.2l23.3 44h-46.6zM1051 947.8l23.3 44h-46.6zM1055.4 945.1l23.3 44h-46.6zM1059.8 946.2l23.3 44h-46.6zM1064.2 944.8l23.3 44h-46.6zM1068.7 944.6l23.3 44h-46.6zM1073.1 944.5l23.3 44h-46.6zM1077.5 942.9l23.3 44h-46.6zM1081.9 942.7l23.3 44h-46.6zM1086.3 944.3l23.3 44h-46.6zM1090.8 943.8l23.3 44h-46.6zM1095.2 943.7l23.3 44h-46.6zM1099.6 940.9l23.3 44h-46.6zM1104 941.3l23.3 44h-46.6zM1108.4 941.2l23.3 44h-46.6zM1112.8 942.6l23.3 44h-46.6zM1117.2 940.4l23.3 44h-46.6zM1121.7 941l23.3 44h-46.6zM1126.1 937.4l23.3 44h-46.6zM1130.5 938.8l23.3 44h-46.6zM1134.9 938.2l23.3 44h-46.6zM1139.3 939.4l23.3 44h-46.6zM1143.8 937l23.3 44h-46.6zM1148.2 938.9l23.3 44h-46.6zM1152.6 935.7l23.3 44h-46.6zM1157 935.3l23.3 44h-46.6zM1161.4 938.5l23.3 44h-46.6zM1165.8 938.2l23.3 44h-46.6zM1170.2 936.5l23.3 44h-46.6zM1174.7 934.3l23.3 44h-46.6zM1179.1 934.1l23.3 44h-46.6zM1183.5 935.1l23.3 44h-46.6zM1187.9 935.2l23.3 44h-46.6zM1192.3 936.4l23.3 44h-46.6zM1196.8 936.4l23.3 44h-46.6zM1201.2 926.1l23.3 44h-46.6zM1205.6 933.6l23.3 44h-46.6zM1210 933.6l23.3 44h-46.6zM1214.4 932.1l23.3 44h-46.6zM1218.8 931.9l23.3 44h-46.6zM1223.2 934l23.3 44h-46.6zM1227.7 934.3l23.3 44h-46.6zM1232.1 931.6l23.3 44h-46.6zM1236.5 933.1l23.3 44h-46.6zM1240.9 931.5l23.3 44h-46.6zM1245.3 929.8l23.3 44h-46.6zM1249.8 932.6l23.3 44h-46.6zM1254.2 930.4l23.3 44h-46.6zM1258.6 929.3l23.3 44h-46.6zM1263 928.4l23.3 44h-46.6zM1267.4 928.9l23.3 44h-46.6zM1271.8 927l23.3 44h-46.6zM1276.2 929.1l23.3 44h-46.6zM1280.7 925.3l23.3 44h-46.6zM1285.1 928l23.3 44h-46.6zM1289.5 926.4l23.3 44h-46.6zM1293.9 923.9l23.3 44h-46.6zM1298.3 926.9l23.3 44h-46.6zM1302.8 924.5l23.3 44h-46.6zM1307.2 926.9l23.3 44h-46.6zM1311.6 927.1l23.3 44h-46.6zM1316 924.2l23.3 44h-46.6zM1320.4 926.7l23.3 44h-46.6zM1324.8 926.2l23.3 44h-46.6zM1329.2 923.7l23.3 44h-46.6zM1333.7 926.1l23.3 44h-46.6zM1338.1 923.3l23.3 44h-46.6zM1342.5 924.2l23.3 44h-46.6zM1346.9 922.3l23.3 44h-46.6zM1351.3 923.8l23.3 44h-46.6zM1355.8 922.8l23.3 44h-46.6zM1360.2 923.2l23.3 44h-46.6zM1364.6 923.4l23.3 44h-46.6zM1369 923.6l23.3 44h-46.6zM1373.4 921.2l23.3 44h-46.6zM1377.8 920.5l23.3 44h-46.6zM1382.2 921l23.3 44h-46.6zM1386.7 920.9l23.3 44h-46.6zM1391.1 918.9l23.3 44h-46.6zM1395.5 918.4l23.3 44h-46.6zM1399.9 920.5l23.3 44h-46.6zM1404.3 921l23.3 44h-46.6zM1408.8 917.7l23.3 44h-46.6zM1413.2 920.4l23.3 44h-46.6zM1417.6 918l23.3 44h-46.6zM1422 919.9l23.3 44h-46.6zM1426.4 917.7l23.3 44h-46.6zM1430.8 918.1l23.3 44h-46.6zM1435.2 919.7l23.3 44h-46.6zM1439.7 919.4l23.3 44h-46.6zM1444.1 916.2l23.3 44h-46.6zM1448.5 917.3l23.3 44h-46.6zM1452.9 917.4l23.3 44h-46.6zM1457.3 917.1l23.3 44h-46.6zM1461.8 916.9l23.3 44h-46.6zM1466.2 915.4l23.3 44h-46.6zM1470.6 914.3l23.3 44h-46.6zM1475 915.8l23.3 44h-46.6zM1479.4 914.5l23.3 44h-46.6zM1483.8 913.7l23.3 44h-46.6zM1488.2 915l23.3 44h-46.6zM1492.7 914.9l23.3 44h-46.6zM1497.1 912.3l23.3 44h-46.6zM1501.5 915.8l23.3 44h-46.6zM1505.9 912l23.3 44h-46.6zM1510.3 913l23.3 44h-46.6zM1514.8 913.8l23.3 44h-46.6zM1519.2 911.7l23.3 44h-46.6zM1523.6 911.6l23.3 44h-46.6zM1528 912.9l23.3 44h-46.6zM1532.4 913.4l23.3 44h-46.6zM1536.8 912.2l23.3 44h-46.6zM1541.2 910.5l23.3 44h-46.6zM1545.7 912.7l23.3 44h-46.6zM1550.1 912.6l23.3 44h-46.6zM1554.5 911.9l23.3 44h-46.6zM1558.9 912.6l23.3 44h-46.6zM1563.3 912l23.3 44h-46.6zM1567.8 912.2l23.3 44h-46.6zM1572.2 910l23.3 44h-46.6zM1576.6 909.8l23.3 44h-46.6zM1581 910l23.3 44h-46.6zM1585.4 911.1l23.3 44h-46.6zM1589.8 908.6l23.3 44h-46.6zM1594.2 909.3l23.3 44h-46.6zM1598.7 909.1l23.3 44h-46.6zM1603.1 908.6l23.3 44h-46.6zM1607.5 906.6l23.3 44h-46.6zM1611.9 907.5l23.3 44h-46.6zM1616.3 906.5l23.3 44h-46.6zM1620.8 908.5l23.3 44h-46.6zM1625.2 908.2l23.3 44h-46.6zM1629.6 905.6l23.3 44h-46.6zM1634 907.5l23.3 44h-46.6zM1638.4 908l23.3 44h-46.6zM1642.8 905.9l23.3 44h-46.6zM1647.2 907.4l23.3 44h-46.6zM1651.7 905.2l23.3 44h-46.6zM1656.1 903.4l23.3 44h-46.6zM1660.5 904.3l23.3 44h-46.6zM1664.9 903.4l23.3 44h-46.6zM1669.3 902.9l23.3 44h-46.6zM1673.8 902.9l23.3 44h-46.6zM1678.2 905.3l23.3 44h-46.6zM1682.6 904.8l23.3 44h-46.6zM1687 903.9l23.3 44h-46.6zM1691.4 905.1l23.3 44h-46.6zM1695.8 901.6l23.3 44h-46.6zM1700.2 903.3l23.3 44h-46.6zM1704.7 902.1l23.3 44h-46.6zM1709.1 903.9l23.3 44h-46.6zM1713.5 903.1l23.3 44h-46.6zM1717.9 902l23.3 44h-46.6zM1722.3 903l23.3 44h-46.6zM1726.8 900.8l23.3 44h-46.6z"/>
</g>
<g class="tk"><text transform="translate(131.31 1284.75) scale(0.9453 1)">0.0</text><text transform="translate(131.31 1084.08) scale(0.9453 1)">0.5</text><text transform="translate(133.18 883.42) scale(0.9241 1)">1.0</text><text transform="translate(133.18 682.75) scale(0.9241 1)">1.5</text><text transform="translate(130.33 482.08) scale(0.9565 1)">2.0</text><text transform="translate(130.33 281.42) scale(0.9565 1)">2.5</text><text transform="translate(131.31 80.75) scale(0.9453 1)">3.0</text><text transform="translate(240.03 1354.70) scale(0.8875 1)">0</text><text transform="translate(453.82 1354.70) scale(0.9393 1)">3600</text><text transform="translate(717.87 1354.70) scale(0.9446 1)">7200</text><text transform="translate(967.98 1354.70) scale(0.9246 1)">10,800</text><text transform="translate(1232.98 1354.70) scale(0.9246 1)">14,400</text><text transform="translate(1497.98 1354.70) scale(0.9246 1)">18,000</text></g>
<g class="ti"><text transform="translate(832.08 1483.90) scale(1.0231 1)">Time, sec</text><text transform="translate(95.2 1144.60) rotate(-90) scale(1.0521 1)">Ellipsometric angle DELTA</text></g>
<rect x="1069.25" y="177.45" width="577.8" height="256.8" fill="#fff" stroke="#000" stroke-width="2.5"/>
<g shape-rendering="crispEdges">
<rect x="1134" y="205" width="36" height="36" fill="#000"/>
<circle cx="1151.2" cy="305.3" r="20" fill="#f00"/>
<path d="M1151.2 361.8l23.3 41h-46.6z" fill="#0f0"/>
</g>
<g class="lg">
<text transform="translate(1239.94 244.00) scale(0.9798 1)">FBLGp 0.0017%</text><text transform="translate(1239.93 327.20) scale(0.9860 1)">FBLGp/PSS 10/1</text><text transform="translate(1239.93 410.10) scale(0.9868 1)">FBLGp/PSS 1/1</text>
</g>
</svg>
</body></html>
